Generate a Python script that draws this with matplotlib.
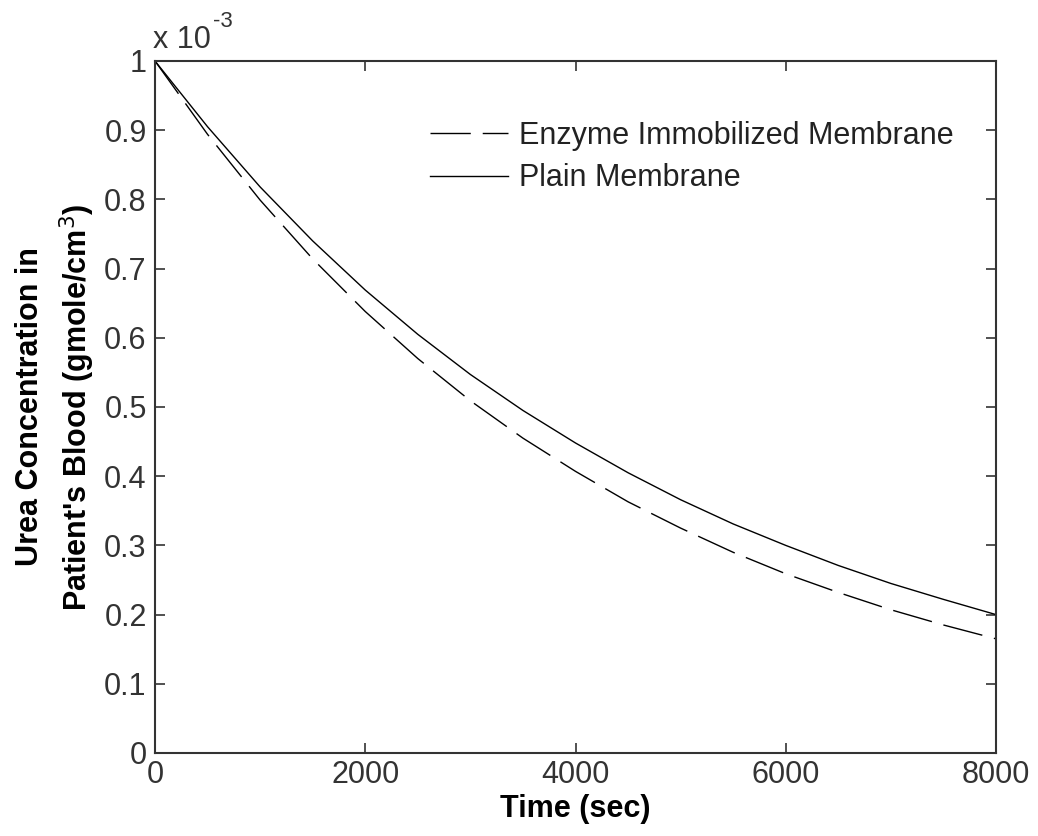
import matplotlib
matplotlib.use("Agg")
import matplotlib.pyplot as plt

plt.rcParams['font.family'] = ['Liberation Sans', 'DejaVu Sans']

# Dialysis time (s) and urea concentration in blood (gmole/cm^3, x 1e-3)
time_s = [0, 500, 1000, 1500, 2000, 2500, 3000, 3500, 4000,
          4500, 5000, 5500, 6000, 6500, 7000, 7500, 8000]
enzyme_conc = [1.000, 0.894, 0.799, 0.714, 0.638, 0.570, 0.509, 0.455, 0.407,
               0.363, 0.325, 0.290, 0.259, 0.232, 0.207, 0.185, 0.165]
plain_conc = [1.000, 0.905, 0.818, 0.740, 0.669, 0.605, 0.547, 0.495, 0.448,
              0.405, 0.366, 0.331, 0.300, 0.271, 0.245, 0.222, 0.200]

x_ticks = [0, 2000, 4000, 6000, 8000]
y_ticks = [0, 0.1, 0.2, 0.3, 0.4, 0.5, 0.6, 0.7, 0.8, 0.9, 1.0]
y_tick_labels = ['0', '0.1', '0.2', '0.3', '0.4', '0.5', '0.6', '0.7', '0.8', '0.9', '1']

W, H = 1038, 836
fig = plt.figure(figsize=(W / 100, H / 100), dpi=100)
left, right, top, bottom = 155, 996, 61, 753
ax = fig.add_axes([left / W, 1 - bottom / H, (right - left) / W, (bottom - top) / H])

ax.plot(time_s, enzyme_conc, color='black', lw=1.0, linestyle=(0, (29, 8.6)),
        label='Enzyme Immobilized Membrane')
ax.plot(time_s, plain_conc, color='black', lw=1.0, label='Plain Membrane')

ax.set_xlim(0, 8000)
ax.set_ylim(0, 1.0)
ax.set_xticks(x_ticks)
ax.set_xticklabels([str(v) for v in x_ticks])
ax.set_yticks(y_ticks)
ax.set_yticklabels(y_tick_labels)
ax.tick_params(direction='in', length=7.5, width=1.2, top=True, right=True,
               labelsize=22, colors='#333333')
ax.tick_params(axis='y', pad=6)
ax.tick_params(axis='x', pad=5)
for sp in ax.spines.values():
    sp.set_linewidth(1.5)
    sp.set_color('#333333')

ax.set_xlabel('Time (sec)', fontsize=22, fontweight='bold', labelpad=3)

# two-line y label
ymid = 1 - (top + bottom) / 2 / H
fig.text(30 / W, ymid, 'Urea Concentration in', rotation=90, ha='center',
         va='center', fontsize=22, fontweight='bold')
fig.text(77 / W, ymid, "Patient's Blood (gmole/cm$^{3}$)", rotation=90,
         ha='center', va='center', fontsize=22, fontweight='bold')

# exponent marker above the y axis
fig.text(153 / W, 1 - 48 / H, 'x 10', fontsize=22, ha='left', va='baseline',
         color='#333333')
fig.text(213 / W, 1 - 27 / H, '-3', fontsize=16, ha='left', va='baseline',
         color='#333333')

leg = ax.legend(loc='upper left',
                bbox_to_anchor=((418 - left) / (right - left), 0.931),
                frameon=False, fontsize=22, handlelength=2.55,
                handletextpad=0.36, labelspacing=0.41, borderaxespad=0)
for t in leg.get_texts():
    t.set_color('#222222')

fig.savefig('out.png', dpi=100, facecolor='white')
